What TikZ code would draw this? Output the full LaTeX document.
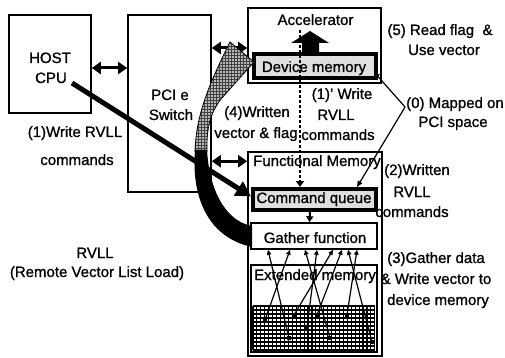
\documentclass[tikz,border=0pt]{standalone}
\usepackage{fontspec}
\setmainfont[FakeBold=1]{Liberation Sans}
\usetikzlibrary{arrows.meta,patterns}
\begin{document}
\begin{tikzpicture}[x=1pt,y=-1pt,
  txt/.style={font=\fontsize{15}{18}\selectfont, inner sep=0pt, anchor=base},
  box/.style={draw, line width=1.6pt, inner sep=0pt},
  memthick/.style={draw, line width=4pt, fill=gray!25, inner sep=0pt},
  dbl/.style={line width=3pt, {Triangle[length=9pt,width=12pt]}-{Triangle[length=9pt,width=12pt]}},
  thinarr/.style={line width=1.2pt, -{Triangle[length=6pt,width=5pt]}},
  gat/.style={line width=1.2pt, -{Triangle[length=5pt,width=4.5pt]}},
  dot/.style={fill, inner sep=0pt, minimum size=3.6pt},
  gridl/.style={line width=1.1pt},
  dotline/.style={line width=2.6pt, dash pattern=on 3pt off 2pt, -{Triangle[length=6pt,width=8pt]}},
]
\useasboundingbox (0,0) rectangle (505,358);

% boxes
\node[box, minimum width=82pt, minimum height=98pt] (host) at (50,64) {};
\node[box, minimum width=83pt, minimum height=177pt] (pcie) at (169.5,103.5) {};
\node[box, minimum width=133pt, minimum height=75pt] (acc) at (314.5,45.5) {};
\node[box, minimum width=134pt, minimum height=204pt] (func) at (315,254) {};
\node[box, minimum width=126pt, minimum height=26pt] (gather) at (314,236) {};
\node[box, minimum width=126pt, minimum height=87pt] (ext) at (314,308.5) {};

% grid of extended memory
\foreach \i in {0,...,31} \draw[gridl] ({253+\i*3.93},306) -- ({253+\i*3.93},350);
\foreach \j in {0,...,11} \draw[gridl] (253,{306+\j*4}) -- (375,{306+\j*4});

% block arrow in accelerator
\fill (302,55) -- (302,43) -- (291,43) -- (310,31) -- (329,43) -- (319,43) -- (319,55) -- cycle;

\node[memthick, minimum width=122pt, minimum height=24pt] (devmem) at (315,66) {};
\node[memthick, minimum width=123pt, minimum height=21pt] (cmdq) at (314.5,199.5) {};

% double arrows
\draw[dbl] ([yshift=-4pt]host.east) -- ([yshift=-4pt]host.east -| pcie.west);
\draw[dbl] ([yshift=-2.5pt]acc.west -| pcie.east) -- ([yshift=-2.5pt]acc.west);
\draw[dbl] ([yshift=-10pt]func.north west -| pcie.east) -- ([yshift=-10pt]func.north west);

% written vector & flag (checkered arrow)
\path[draw=black, line width=0.8pt, preaction={fill=gray!55}, pattern=grid, pattern color=black!75]
  (195,152) .. controls (196,118) and (206,90) .. (230,42) -- (254,62) -- (221,99)
  .. controls (211,112) and (206,128) .. (207,152) -- cycle;
% black crescent
\fill (195,150) .. controls (191,200) and (210,238) .. (252,247) -- (252,226)
  .. controls (230,222) and (210,198) .. (207,150) -- cycle;

% texts
\node[txt] (thost) at (50,63) {HOST};
\node[txt] (tcpu) at (51,83) {CPU};
\node[txt] (tpci) at (170,100) {PCI e};
\node[txt] (tsw) at (171,120) {Switch};
\node[txt] (tw1) at (75,137) {(1)Write RVLL};
\node[txt] (tw1b) at (77,165) {commands};
\node[txt] (tacc) at (315.5,25) {Accelerator};
\node[txt] (tdev) at (314,72) {Device memory};
\node[txt] (t5a) at (440,35) {(5) Read flag \ \&};
\node[txt] (t5b) at (444,55) {Use vector};
\node[txt] (t1pa) at (342,99) {(1)' Write};
\node[txt] (t1pb) at (336,120) {RVLL};
\node[txt] (t1pc) at (338,140) {commands};
\node[txt] (t4a) at (257,117) {(4)Written};
\node[txt] (t4b) at (256,138) {vector \& flag};
\node[txt] (t0a) at (455,108) {(0) Mapped on};
\node[txt] (t0b) at (453,127) {PCI space};
\node[txt] (tfunc) at (317,166) {Functional Memory};
\node[txt] (t2a) at (417,175) {(2)Written};
\node[txt] (t2b) at (412,197) {RVLL};
\node[txt] (t2c) at (412,217) {commands};
\node[txt] (tcmd) at (314,203) {Command queue};
\node[txt] (tgat) at (315,243) {Gather function};
\node[txt] (text) at (315,280) {Extended memory};
\node[txt] (t3a) at (436,263) {(3)Gather data};
\node[txt] (t3b) at (436,284) {\& Write vector to};
\node[txt] (t3c) at (438,305) {device memory};
\node[txt] (trv) at (95,258) {RVLL};
\node[txt] (trvl) at (97,277) {(Remote Vector List Load)};

% host to command queue
\coordinate (hs) at (72,83);
\draw[line width=5pt, -{Triangle[length=15pt,width=16pt]}] (hs) -- ([yshift=3pt]cmdq.west);

% dotted line (1)'
\coordinate (dtop) at (300,30);
\draw[dotline] (dtop) -- (cmdq.north -| dtop);

% command queue to gather
\draw[line width=2pt, -{Triangle[length=6pt,width=7pt]}] ([xshift=-4.5pt]cmdq.south) -- ([xshift=-4.5pt]gather.north);

% (0) mapped lines
\coordinate (v) at (405,107);
\draw[thinarr] (v) -- ([xshift=-4pt,yshift=8pt]devmem.south east);
\draw[thinarr] (v) -- ([xshift=-21pt]cmdq.north east);

% gather arrows
\node[dot] (d1) at (265,320) {};
\node[dot] (d2) at (289,338) {};
\node[dot] (d3) at (294,315) {};
\node[dot] (d4) at (307,327) {};
\node[dot] (d5) at (317,315) {};
\node[dot] (d6) at (330,338) {};
\node[dot] (d7) at (347,315) {};
\node[dot] (d8) at (372,342) {};
\draw[gat] (d1) -- ([xshift=-24pt]gather.south);
\draw[gat] (d2) -- ([xshift=-46pt]gather.south);
\draw[gat] (d3) -- ([xshift=19pt]gather.south);
\draw[gat] (d4) -- ([xshift=3pt]gather.south);
\draw[gat] (d5) -- ([xshift=28pt]gather.south);
\draw[gat] (d6) -- ([xshift=-9pt]gather.south);
\draw[gat] (d7) -- ([xshift=43pt]gather.south);
\draw[gat] (d8) -- ([xshift=34pt]gather.south);
\end{tikzpicture}
\end{document}
